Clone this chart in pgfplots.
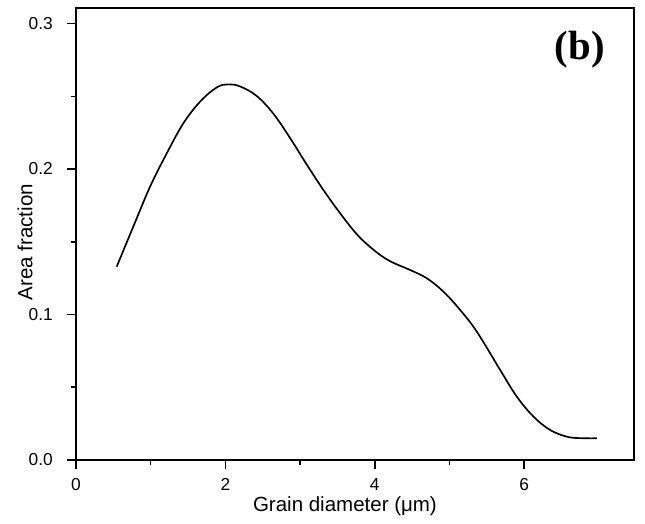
\documentclass[border=0pt]{standalone}
\usepackage{fontspec}
\setmainfont{Liberation Sans}
\newfontfamily\timesfont{Liberation Serif}
\usepackage{pgfplots}
\pgfplotsset{compat=1.18}
\usetikzlibrary{calc}

\begin{document}
\begin{tikzpicture}
  \begin{axis}[
      scale only axis,
      width=334.8pt, height=271.2pt,
      xmin=0, xmax=7.47,
      ymin=0, ymax=0.3107,
      xtick={0,2,4,6}, minor x tick num=1,
      ytick={0,0.1,0.2,0.3}, minor y tick num=1,
      xtick pos=bottom, ytick pos=left,
      tick align=outside,
      major tick length=5.4pt, minor tick length=3pt,
      every tick/.style={black, line width=0.9pt},
      axis line style={line width=1.1pt},
      yticklabel style={/pgf/number format/fixed,
        /pgf/number format/fixed zerofill,
        /pgf/number format/precision=1},
      /pgf/number format/assume math mode=true,
      tick label style={font=\fontsize{10.4}{12}\selectfont},
      xticklabel style={yshift=-2pt},
      yticklabel style={xshift=-5pt},
      xlabel={Grain diameter (μm)},
      ylabel={Area fraction},
      label style={font=\fontsize{12.3}{14}\selectfont},
      xlabel style={at={(axis description cs:0.482,-0.115)}, anchor=base},
      ylabel style={at={(axis description cs:-0.0914,0.482)}, anchor=center, rotate=0},
      clip=false,
    ]
    % area fraction vs grain diameter
    \addplot[black, line width=1pt, smooth, tension=0.6] coordinates {
      (0.545,0.1329) (0.767,0.1604) (0.991,0.1878) (1.215,0.2108)
      (1.437,0.2314) (1.661,0.2463) (1.884,0.2561) (2.04,0.2582)
      (2.2,0.2567) (2.42,0.2502) (2.643,0.2380) (2.866,0.2213)
      (3.09,0.2030) (3.312,0.1856) (3.536,0.1696) (3.759,0.1552)
      (3.982,0.1445) (4.2,0.1368) (4.473,0.1306) (4.697,0.1249)
      (4.919,0.1157) (5.143,0.1031) (5.366,0.0882)
      (5.678,0.0619) (5.902,0.0435) (6.125,0.0298) (6.348,0.0206)
      (6.572,0.0160) (6.75,0.0150) (6.973,0.0149)
    };
    \node[font=\timesfont\bfseries\fontsize{24.5}{28}\selectfont]
      at (axis description cs:0.903,0.907) {(b)};
  \end{axis}
  \pgfresetboundingbox
  \path ($(current axis.south west)+(-45.6pt,-38.4pt)$)
    rectangle ($(current axis.north east)+(6.6pt,4.8pt)$);
\end{tikzpicture}
\end{document}
